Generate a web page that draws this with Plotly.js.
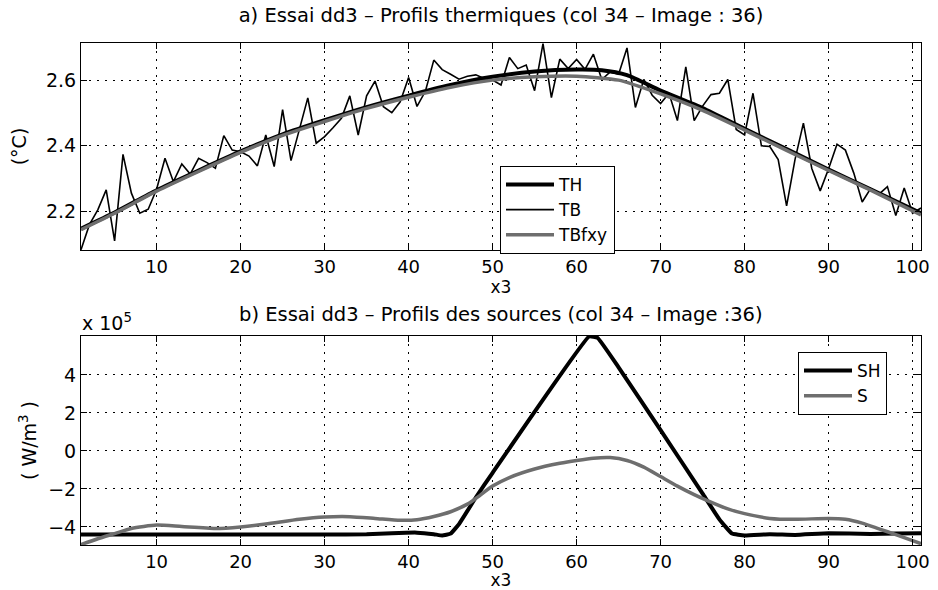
<!DOCTYPE html>
<html>
<head>
<meta charset="utf-8">
<script src="https://cdn.plot.ly/plotly-3.0.1.min.js"></script>
<style>html,body{margin:0;padding:0;background:#fff;}#chart{width:938px;height:590px;}</style>
</head>
<body>
<div id="chart"></div>
<script>
// ---- Panel a) thermal profiles ----
const tbX = [1,2,3,4,5,6,7,8,9,10,11,12,13,14,15,16,17,18,19,20,21,22,23,24,25,26,27,28,29,30,31,32,33,34,35,36,37,38,39,40,41,42,43,44,45,46,47,48,49,50,51,52,53,54,55,56,57,58,59,60,61,62,63,64,65,66,67,68,69,70,71,72,73,74,75,76,77,78,79,80,81,82,83,84,85,86,87,88,89,90,91,92,93,94,95,96,97,98,99,100,101];
const tbY = [2.084,2.160,2.205,2.266,2.111,2.374,2.256,2.195,2.207,2.268,
             2.362,2.291,2.345,2.314,2.362,2.349,2.332,2.431,2.387,2.382,
             2.369,2.339,2.433,2.337,2.510,2.355,2.450,2.546,2.408,2.428,
             2.455,2.484,2.552,2.433,2.552,2.597,2.519,2.501,2.534,2.608,
             2.520,2.566,2.661,2.632,2.618,2.603,2.612,2.616,2.605,2.600,
             2.585,2.669,2.635,2.646,2.568,2.711,2.547,2.664,2.635,2.663,
             2.633,2.679,2.602,2.625,2.618,2.698,2.517,2.602,2.554,2.529,
             2.560,2.477,2.640,2.477,2.521,2.556,2.560,2.602,2.450,2.433,
             2.560,2.400,2.398,2.358,2.217,2.358,2.469,2.331,2.263,2.330,
             2.405,2.387,2.317,2.229,2.270,2.253,2.276,2.188,2.272,2.195,2.211];

const thX = [1,5,10,15,20,25,30,35,40,45,50,55,60,63,66,70,75,80,85,90,95,101];
const thY = [2.148,2.197,2.265,2.325,2.383,2.435,2.478,2.518,2.553,2.585,2.610,2.626,2.632,2.630,2.615,2.568,2.515,2.452,2.390,2.328,2.268,2.195];

const tbfX = [1,5,10,15,20,25,30,35,40,45,50,55,60,65,70,75,80,85,90,95,101];
const tbfY = [2.145,2.195,2.262,2.322,2.380,2.432,2.474,2.514,2.548,2.578,2.600,2.610,2.612,2.600,2.558,2.508,2.448,2.386,2.325,2.265,2.190];

// ---- Panel b) source profiles (units of 10^5 W/m3) ----
const shX = [1,5,10,15,20,25,30,35,38,41,43,44,45,46,48,50,61.5,62.5,65,70,75,77,78.5,80,83,86,90,95,98,101];
const shY = [-4.40,-4.40,-4.40,-4.40,-4.40,-4.40,-4.40,-4.39,-4.33,-4.30,-4.38,-4.45,-4.35,-3.85,-2.45,-1.15,6.03,5.95,4.40,1.10,-2.25,-3.60,-4.35,-4.45,-4.38,-4.42,-4.33,-4.37,-4.35,-4.33];

const sX = [1,3,5,7,10,13,17,20,23,27,30,33,36,39,41,43,45,47,48,50,52,55,58,60,62,64,66,68,70,72,74,75.5,78,80,83,86,90,92,94,96,98,101];
const sY = [-4.93,-4.62,-4.35,-4.08,-3.90,-3.98,-4.08,-4.00,-3.85,-3.60,-3.48,-3.46,-3.55,-3.65,-3.62,-3.45,-3.20,-2.80,-2.50,-1.85,-1.40,-0.95,-0.65,-0.50,-0.38,-0.35,-0.50,-0.85,-1.35,-1.85,-2.30,-2.60,-3.05,-3.30,-3.55,-3.60,-3.55,-3.60,-3.80,-4.10,-4.40,-4.88];

const xTicks = [10,20,30,40,50,60,70,80,90,100];
const yTicksA = [2.2,2.4,2.6];
const yTicksB = [-4,-2,0,2,4];
const yTickTextB = ['\u22124','\u22122','0','2','4'];

const GRAY = '#6e6e6e';
const traces = [
  {x: thX, y: thY, name: 'TH', type: 'scatter', mode: 'lines', line: {color: '#000', width: 4, shape: 'spline', smoothing: 0.6}, xaxis: 'x', yaxis: 'y', legend: 'legend'},
  {x: tbX, y: tbY, name: 'TB', type: 'scatter', mode: 'lines', line: {color: '#000', width: 1.6}, xaxis: 'x', yaxis: 'y', legend: 'legend'},
  {x: tbfX, y: tbfY, name: 'TBfxy', type: 'scatter', mode: 'lines', line: {color: GRAY, width: 3.5, shape: 'spline', smoothing: 0.6}, xaxis: 'x', yaxis: 'y', legend: 'legend'},
  {x: shX, y: shY, name: 'SH', type: 'scatter', mode: 'lines', line: {color: '#000', width: 4, shape: 'spline', smoothing: 0.3}, xaxis: 'x2', yaxis: 'y2', legend: 'legend2'},
  {x: sX, y: sY, name: 'S', type: 'scatter', mode: 'lines', line: {color: GRAY, width: 3.5, shape: 'spline', smoothing: 0.6}, xaxis: 'x2', yaxis: 'y2', legend: 'legend2'}
];

const H = 590, W = 938, L = 81, R = 17;
const PW = W - L - R;
function py(px) { return 1 - px / H; }
function pxX(px) { return (px - L) / PW; }

const axCommon = {
  showline: true, linecolor: '#000', linewidth: 1, mirror: 'allticks',
  ticks: 'inside', ticklen: 6, tickcolor: '#000', tickwidth: 1,
  showgrid: true, gridcolor: '#000', gridwidth: 1, griddash: '2px,6px',
  zeroline: false, tickfont: {family: 'DejaVu Sans', size: 19, color: '#000'}
};
const xTickFont = {family: 'DejaVu Sans', size: 18, color: '#000'};

const layout = {
  width: W, height: H,
  margin: {l: L, r: R, t: 0, b: 0},
  paper_bgcolor: '#fff', plot_bgcolor: '#fff',
  font: {family: 'DejaVu Sans', size: 19, color: '#000'},
  showlegend: true,
  title: {text: 'a) Essai dd3 \u2013 Profils thermiques (col 34 \u2013 Image : 36)', x: 0.5, xref: 'paper', xanchor: 'center', y: py(15), yref: 'container', yanchor: 'middle', font: {family: 'DejaVu Sans', size: 19.5, color: '#000'}},
  xaxis: Object.assign({}, axCommon, {domain: [0, 1], anchor: 'y', range: [1, 101], tickvals: xTicks, tickfont: xTickFont, title: {text: 'x3', standoff: 3, font: {size: 17}}}),
  yaxis: Object.assign({}, axCommon, {domain: [py(250), py(43)], anchor: 'x', range: [2.083, 2.713], tickvals: yTicksA, tickformat: '.1f', title: {text: '(\u00b0C)', standoff: 14, font: {size: 19}}}),
  xaxis2: Object.assign({}, axCommon, {domain: [0, 1], anchor: 'y2', range: [1, 101], tickvals: xTicks, tickfont: xTickFont, title: {text: 'x3', standoff: 3, font: {size: 17}}}),
  yaxis2: Object.assign({}, axCommon, {domain: [py(545), py(336)], anchor: 'x2', range: [-4.95, 6.05], tickvals: yTicksB, ticktext: yTickTextB, title: {text: '( W/m<sup>3</sup> )', standoff: 6, font: {size: 19}}}),
  legend: {x: pxX(500), xref: 'paper', xanchor: 'left', y: py(166), yref: 'paper', yanchor: 'top', bordercolor: '#000', borderwidth: 1, bgcolor: '#fff', itemwidth: 48, font: {family: 'DejaVu Sans', size: 17, color: '#000'}, tracegroupgap: 0},
  legend2: {x: pxX(798), xref: 'paper', xanchor: 'left', y: py(352), yref: 'paper', yanchor: 'top', bordercolor: '#000', borderwidth: 1, bgcolor: '#fff', itemwidth: 48, font: {family: 'DejaVu Sans', size: 17, color: '#000'}, tracegroupgap: 0},
  annotations: [
    {text: 'b) Essai dd3 \u2013 Profils des sources (col 34 \u2013 Image :36)', xref: 'paper', yref: 'paper', x: 0.5, y: py(314), xanchor: 'center', yanchor: 'middle', showarrow: false, font: {family: 'DejaVu Sans', size: 19.5, color: '#000'}},
    {text: 'x 10<sup>5</sup>', xref: 'paper', yref: 'paper', x: pxX(80), y: py(322), xanchor: 'left', yanchor: 'middle', showarrow: false, font: {family: 'DejaVu Sans', size: 19, color: '#000'}}
  ]
};

Plotly.newPlot('chart', traces, layout, {displayModeBar: false, staticPlot: true});
</script>
</body>
</html>
